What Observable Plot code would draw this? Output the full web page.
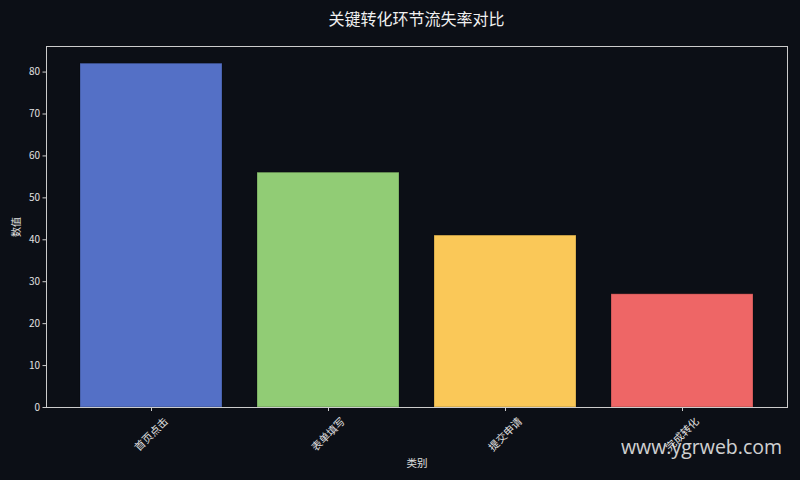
<!DOCTYPE html>
<html>
<head>
<meta charset="utf-8">
<script src="https://cdn.jsdelivr.net/npm/d3@7"></script>
<script src="https://cdn.jsdelivr.net/npm/@observablehq/plot@0.6"></script>
<style>
  html, body { margin: 0; padding: 0; background: #0c0f16; width: 800px; height: 480px; overflow: hidden; }
  #wrap { position: relative; width: 800px; height: 480px; }
  #title { position: absolute; left: 0; top: 0; width: 833px; height: 37px; line-height: 37px; text-align: center;
    font-family: "Noto Sans CJK SC", sans-serif; font-size: 16px; color: #f0f0f0; }
  #chart { position: absolute; left: 0; top: 36px; }
  #wm { position: absolute; left: 621px; top: 433px; font-family: "Open Sans", sans-serif; font-size: 19.5px; color: #e6e6e6; opacity: 0.9; }
</style>
</head>
<body>
<div id="wrap">
  <div id="title"></div>
  <div id="chart"></div>
  <div id="wm">www.ygrweb.com</div>
</div>
<script>
const title = "关键转化环节流失率对比";
const categories = ["首页点击", "表单填写", "提交申请", "完成转化"];
const values = [82, 56, 41, 27];
const colors = ["#5470c6", "#91cc75", "#fac858", "#ee6666"];
const yTicks = [0, 10, 20, 30, 40, 50, 60, 70, 80];
const xLabel = "类别";
const yLabel = "数值";

document.getElementById("title").textContent = title;
const data = categories.map((c, i) => ({category: c, value: values[i], color: colors[i]}));

const chart = Plot.plot({
  width: 800,
  height: 444,
  marginTop: 10,
  marginBottom: 73,
  marginLeft: 46,
  marginRight: 13,
  style: {background: "transparent", color: "#e0e0e0", fontFamily: "'DejaVu Sans', sans-serif", fontSize: "10px"},
  x: {domain: categories, padding: 0.2, paddingOuter: 0.19},
  y: {domain: [0, 86.1]},
  marks: [
    Plot.barY(data, {x: "category", y: "value", fill: "color", stroke: "#000", strokeOpacity: 0.25, strokeWidth: 1}),
    Plot.axisY({ticks: yTicks, tickSize: 3.5, tickPadding: 3, stroke: "#cccccc", fill: "#e0e0e0",
      label: yLabel, labelAnchor: "center", labelArrow: "none", labelOffset: 34,
      fontFamily: "'Noto Sans CJK SC', sans-serif"}),
    Plot.axisX({tickSize: 4, tickPadding: 23, tickRotate: -45, textAnchor: "middle", lineAnchor: "middle",
      stroke: "#cccccc", fill: "#e0e0e0", fontFamily: "'Noto Sans CJK SC', sans-serif", fontSize: 10.5,
      label: xLabel, labelAnchor: "center", labelArrow: "none", labelOffset: 59}),
    Plot.frame({stroke: "#cccccc", strokeWidth: 1})
  ]
});
document.getElementById("chart").appendChild(chart);
</script>
</body>
</html>
